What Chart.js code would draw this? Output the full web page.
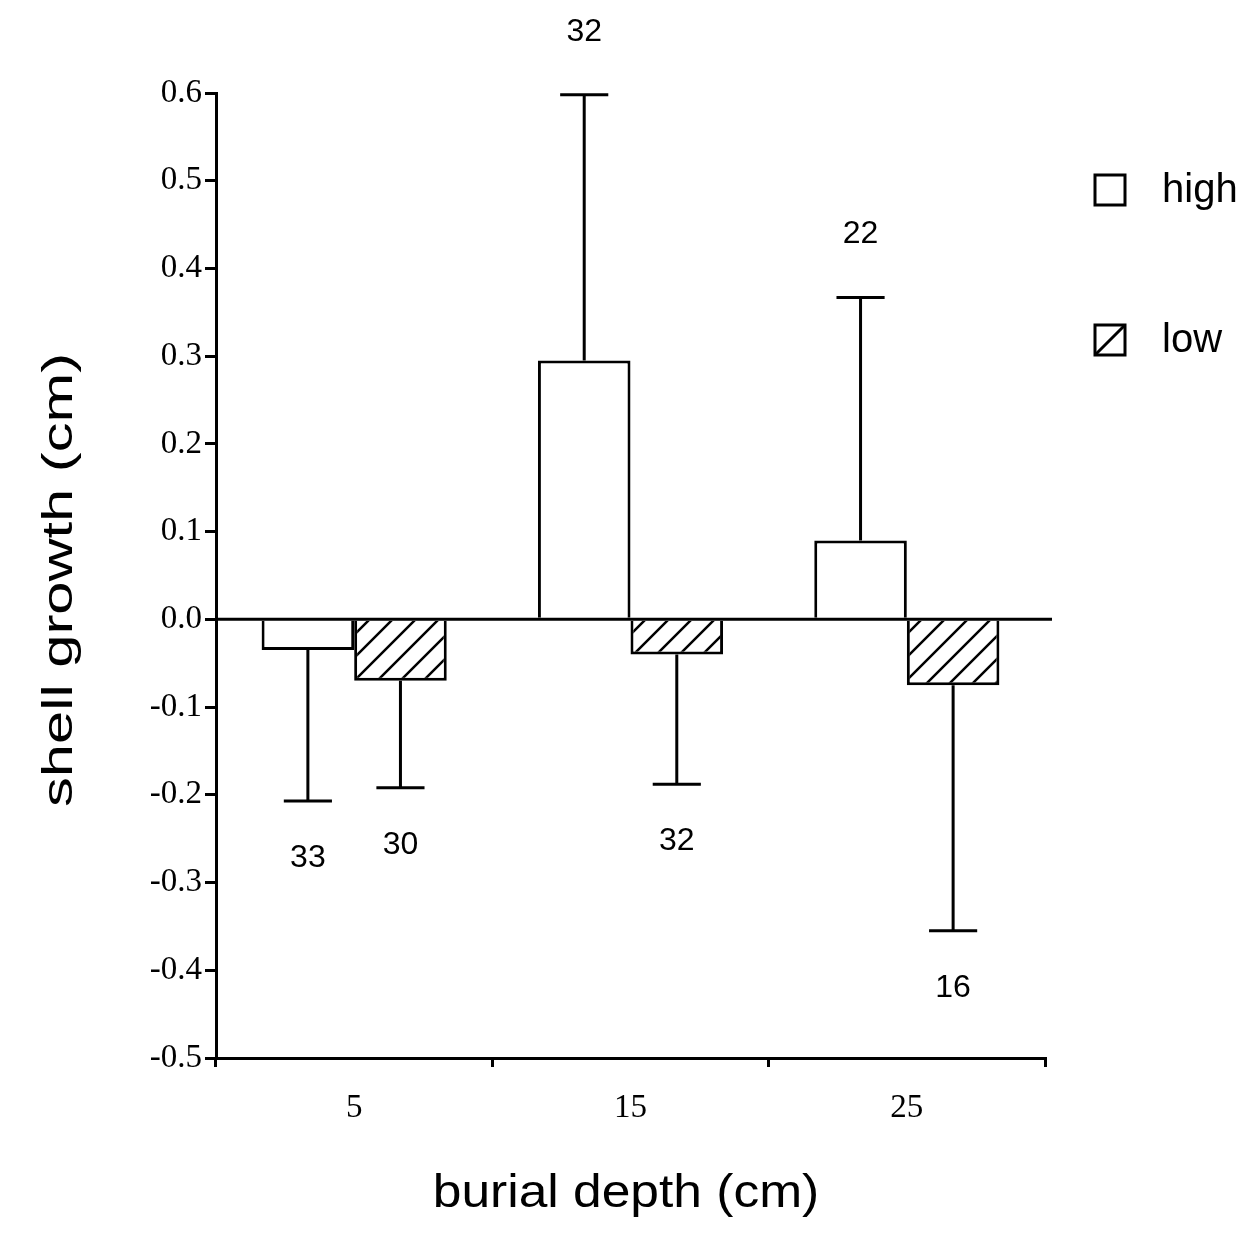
<!DOCTYPE html>
<html>
<head>
<meta charset="utf-8">
<script src="https://cdn.jsdelivr.net/npm/chart.js@4/dist/chart.umd.min.js"></script>
<style>
  html, body { margin: 0; padding: 0; background: #fff; }
  #wrap { width: 1253px; height: 1241px; }
</style>
</head>
<body>
<div id="wrap"><canvas id="c" width="1253" height="1241"></canvas></div>
<script>
// Burial depth categories (cm)
const depths = ['5', '15', '25'];

// Mean shell growth (cm) and standard errors, high density treatment
const highMean = [-0.035, 0.295, 0.09];
const highErr  = [0.172, 0.303, 0.277];
const highN    = [33, 32, 22];

// Mean shell growth (cm) and standard errors, low density treatment
const lowMean = [-0.07, -0.04, -0.075];
const lowErr  = [0.122, 0.148, 0.28];
const lowN    = [30, 32, 16];

// Y axis range and step
const yMin = -0.5, yMax = 0.6, yStep = 0.1;

const SANS = "'Liberation Sans', Arial, Helvetica, sans-serif";
const SERIF = "'Liberation Serif', 'Times New Roman', serif";

// Diagonal hatch fill for the low treatment
function makeHatch() {
  const s = 23;
  const p = document.createElement('canvas');
  p.width = s; p.height = s;
  const g = p.getContext('2d');
  g.fillStyle = '#fff';
  g.fillRect(0, 0, s, s);
  g.strokeStyle = '#000';
  g.lineWidth = 2.5;
  g.beginPath();
  g.moveTo(-2, s + 2); g.lineTo(s + 2, -2);
  g.moveTo(-2, 2); g.lineTo(2, -2);
  g.moveTo(s - 2, s + 2); g.lineTo(s + 2, s - 2);
  g.stroke();
  return g.createPattern(p, 'repeat');
}
const hatch = makeHatch();

// Zero reference line drawn over the bars
const zeroLine = {
  id: 'zeroLine',
  afterDatasetsDraw(chart) {
    const { ctx, chartArea, scales } = chart;
    const y0 = scales.y.getPixelForValue(0);
    ctx.save();
    ctx.strokeStyle = '#000';
    ctx.lineWidth = 3;
    ctx.beginPath();
    ctx.moveTo(chartArea.left, y0);
    ctx.lineTo(chartArea.right + 7, y0);
    ctx.stroke();
    ctx.restore();
  }
};

// One-sided error bars with sample size labels beyond the caps
const errorBars = {
  id: 'errorBars',
  afterDatasetsDraw(chart) {
    const { ctx, scales } = chart;
    chart.data.datasets.forEach((ds, di) => {
      const meta = chart.getDatasetMeta(di);
      meta.data.forEach((bar, i) => {
        const m = ds.data[i];
        const e = ds.errors[i];
        const end = m >= 0 ? m + e : m - e;
        const yStart = scales.y.getPixelForValue(m);
        const yEnd = scales.y.getPixelForValue(end);
        const half = bar.width * 0.26;
        ctx.save();
        ctx.strokeStyle = '#000';
        ctx.lineWidth = 3;
        ctx.beginPath();
        ctx.moveTo(bar.x, yStart);
        ctx.lineTo(bar.x, yEnd);
        ctx.moveTo(bar.x - half, yEnd);
        ctx.lineTo(bar.x + half, yEnd);
        ctx.stroke();
        ctx.fillStyle = '#000';
        ctx.font = '32px ' + SANS;
        ctx.textAlign = 'center';
        ctx.textBaseline = 'middle';
        const ly = m >= 0 ? yEnd - 63 : yEnd + 57;
        ctx.fillText(String(ds.n[i]), bar.x, ly);
        ctx.restore();
      });
    });
  }
};

// Legend boxes at the right of the plot
const sideLegend = {
  id: 'sideLegend',
  afterDraw(chart) {
    const { ctx } = chart;
    const x = 1095, size = 30;
    const rows = [175, 325];
    chart.data.datasets.forEach((ds, di) => {
      const y = rows[di];
      ctx.save();
      ctx.fillStyle = '#fff';
      ctx.fillRect(x, y, size, size);
      ctx.strokeStyle = '#000';
      ctx.lineWidth = 3;
      if (ds.hatched) {
        ctx.beginPath();
        ctx.moveTo(x, y + size);
        ctx.lineTo(x + size, y);
        ctx.stroke();
      }
      ctx.strokeRect(x, y, size, size);
      ctx.fillStyle = '#000';
      ctx.font = '40px ' + SANS;
      ctx.textAlign = 'left';
      ctx.textBaseline = 'middle';
      ctx.fillText(ds.label, 1162, y + size / 2 + 1);
      ctx.restore();
    });
  }
};

// Axis titles, set in a wide sans face
const axisTitles = {
  id: 'axisTitles',
  afterDraw(chart) {
    const { ctx } = chart;
    ctx.save();
    ctx.fillStyle = '#000';
    ctx.textAlign = 'center';
    ctx.textBaseline = 'alphabetic';

    ctx.font = '46px ' + SANS;
    ctx.save();
    ctx.translate(626, 1207);
    ctx.scale(1.12, 1);
    ctx.fillText('burial depth (cm)', 0, 0);
    ctx.restore();

    ctx.font = '42px ' + SANS;
    ctx.save();
    ctx.translate(72, 580);
    ctx.rotate(-Math.PI / 2);
    ctx.scale(1.42, 1);
    ctx.fillText('shell growth (cm)', 0, 0);
    ctx.restore();

    ctx.restore();
  }
};

new Chart(document.getElementById('c'), {
  type: 'bar',
  data: {
    labels: depths,
    datasets: [
      {
        label: 'high',
        data: highMean,
        errors: highErr,
        n: highN,
        hatched: false,
        backgroundColor: '#fff',
        borderColor: '#000',
        borderWidth: 3,
        borderSkipped: 'start'
      },
      {
        label: 'low',
        data: lowMean,
        errors: lowErr,
        n: lowN,
        hatched: true,
        backgroundColor: hatch,
        borderColor: '#000',
        borderWidth: 3,
        borderSkipped: 'start'
      }
    ]
  },
  options: {
    responsive: false,
    animation: false,
    devicePixelRatio: 1,
    categoryPercentage: 0.67,
    barPercentage: 1.0,
    layout: { padding: { left: 0, top: 93, right: 208, bottom: 0 } },
    plugins: {
      legend: { display: false },
      tooltip: { enabled: false },
      title: { display: false }
    },
    scales: {
      x: {
        grid: {
          offset: true,
          drawOnChartArea: false,
          drawTicks: true,
          tickLength: 9,
          color: '#000',
          lineWidth: 3
        },
        border: { display: true, color: '#000', width: 3 },
        ticks: {
          color: '#000',
          font: { family: SERIF, size: 33 },
          padding: 22
        },
        afterFit(s) { s.height = 183; }
      },
      y: {
        min: yMin,
        max: yMax,
        grid: {
          drawOnChartArea: false,
          drawTicks: true,
          tickLength: 11,
          color: '#000',
          lineWidth: 3
        },
        border: { display: true, color: '#000', width: 3 },
        ticks: {
          stepSize: yStep,
          color: '#000',
          font: { family: SERIF, size: 33 },
          padding: 3,
          callback(v) {
            const r = Math.round(v * 10) / 10;
            return (Math.abs(r) < 1e-9 ? 0 : r).toFixed(1);
          }
        },
        afterFit(s) { s.width = 216; }
      }
    }
  },
  plugins: [zeroLine, errorBars, sideLegend, axisTitles]
});
</script>
</body>
</html>
